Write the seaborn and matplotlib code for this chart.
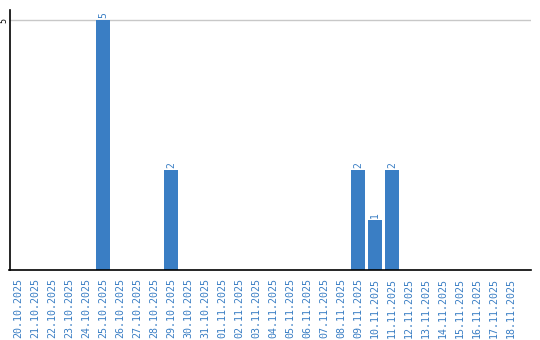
import matplotlib
matplotlib.use("Agg")
import matplotlib.pyplot as plt
import seaborn as sns
import pandas as pd

dates = ["20.10.2025", "21.10.2025", "22.10.2025", "23.10.2025", "24.10.2025",
         "25.10.2025", "26.10.2025", "27.10.2025", "28.10.2025", "29.10.2025",
         "30.10.2025", "31.10.2025", "01.11.2025", "02.11.2025", "03.11.2025",
         "04.11.2025", "05.11.2025", "06.11.2025", "07.11.2025", "08.11.2025",
         "09.11.2025", "10.11.2025", "11.11.2025", "12.11.2025", "13.11.2025",
         "14.11.2025", "15.11.2025", "16.11.2025", "17.11.2025", "18.11.2025"]
counts = [0, 0, 0, 0, 0, 5, 0, 0, 0, 2,
          0, 0, 0, 0, 0, 0, 0, 0, 0, 0,
          2, 1, 2, 0, 0, 0, 0, 0, 0, 0]
y_ticks = [5]

sns.set_style("white")
blue = "#3a7ec4"
df = pd.DataFrame({"date": dates, "count": counts})

fig = plt.figure(figsize=(5.4, 3.4), dpi=100)
ax = fig.add_axes([9.5/540, 70/340, 521/540, 260/340])
sns.barplot(data=df, x="date", y="count", color=blue, saturation=1, width=0.82, ax=ax)
for p in ax.patches:
    p.set_edgecolor("none")

ax.set_ylim(0, 5.2)
ax.set_xlim(-0.5, len(dates) + 0.15)
ax.set_yticks(y_ticks)
ax.set_yticklabels([str(v) for v in y_ticks], rotation=90, va="center",
                   family="DejaVu Sans Mono", fontsize=6, color="black")
ax.yaxis.grid(True, color="#c8c8c8", linewidth=1)
ax.set_axisbelow(True)
ax.tick_params(axis="y", length=0, pad=1)
ax.tick_params(axis="x", length=0, pad=6)
ax.set_xticks(range(len(dates)))
ax.set_xticklabels(dates, rotation=90, family="DejaVu Sans Mono", fontsize=7.2, color=blue)
ax.set_xlabel("")
ax.set_ylabel("")
for s in ["top", "right"]:
    ax.spines[s].set_visible(False)
for s in ["left", "bottom"]:
    ax.spines[s].set_color("black")
    ax.spines[s].set_linewidth(1.2)

for i, v in enumerate(counts):
    if v > 0:
        ax.text(i, v + 0.05, str(v), rotation=90, ha="center", va="bottom",
                family="DejaVu Sans Mono", fontsize=7, color=blue)

fig.savefig("out.png", dpi=100)
